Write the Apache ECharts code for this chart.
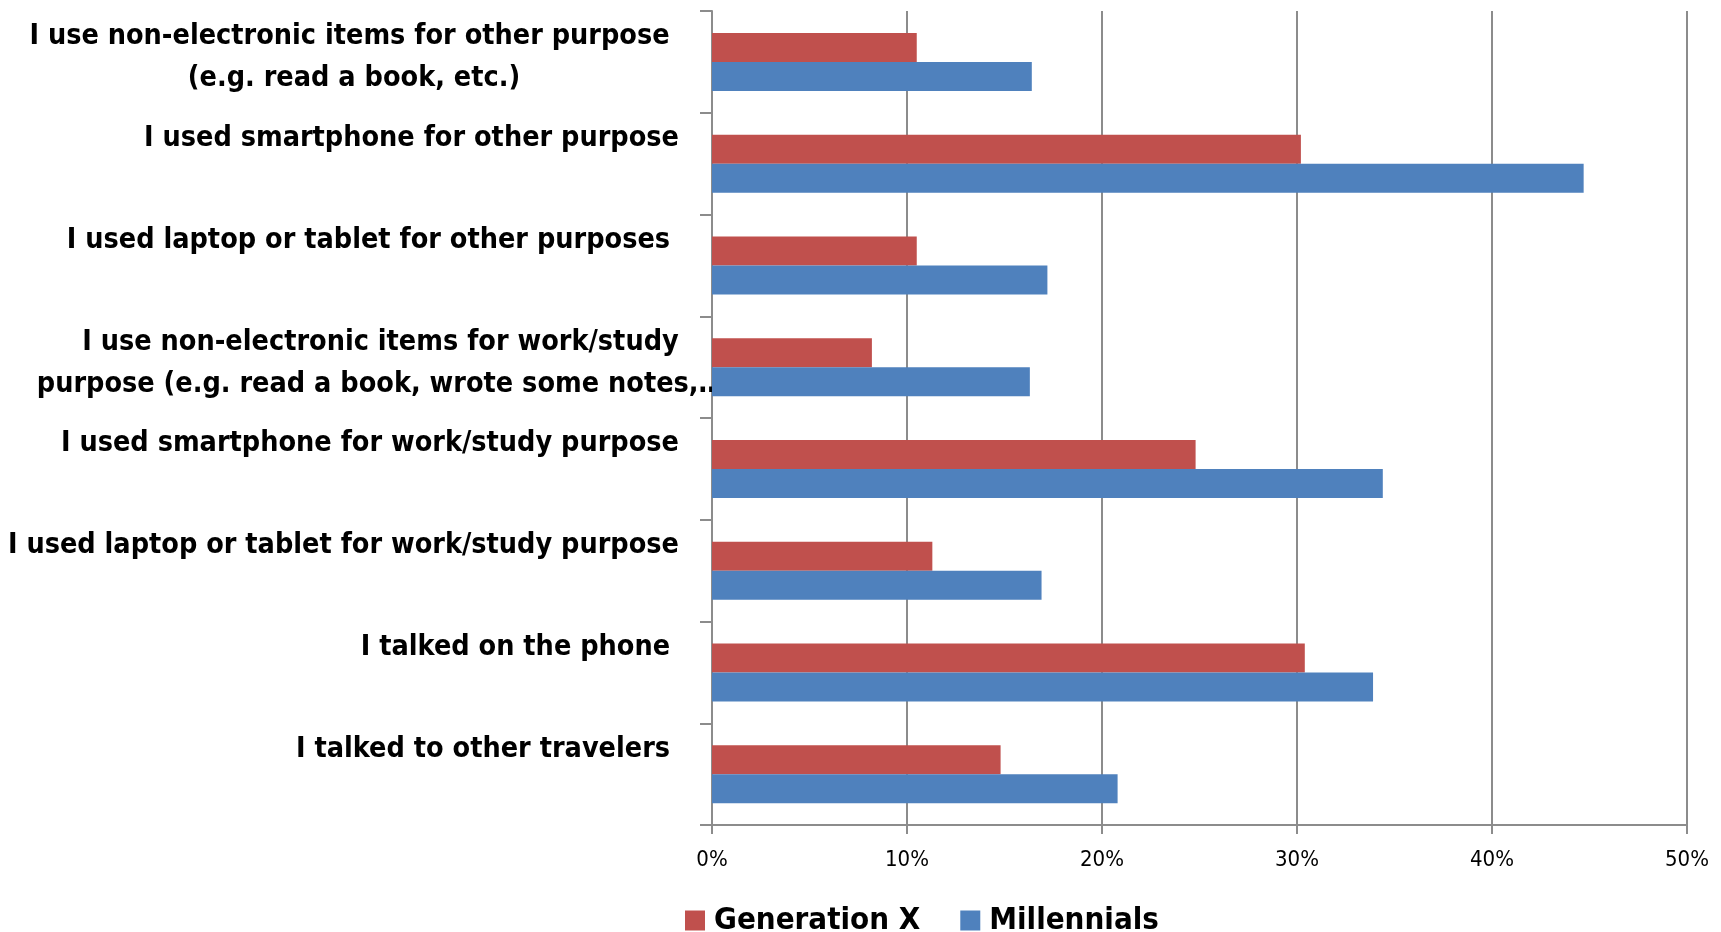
<!DOCTYPE html>
<html>
<head>
<meta charset="utf-8">
<script src="https://cdn.jsdelivr.net/npm/echarts@6/dist/echarts.min.js"></script>
<style>
  html, body { margin: 0; padding: 0; background: #ffffff; }
  #chart { width: 1721px; height: 932px; }
</style>
</head>
<body>
<div id="chart"></div>
<script>
// Activities, listed top to bottom
const categories = [
  'I use non-electronic items for other purpose \n(e.g. read a book, etc.)',
  'I used smartphone for other purpose',
  'I used laptop or tablet for other purposes ',
  'I use non-electronic items for work/study\npurpose (e.g. read a book, wrote some notes,…',
  'I used smartphone for work/study purpose',
  'I used laptop or tablet for work/study purpose',
  'I talked on the phone ',
  'I talked to other travelers '
];

// Share of respondents (%)
const generationX = [10.5, 30.2, 10.5, 8.2, 24.8, 11.3, 30.4, 14.8];
const millennials = [16.4, 44.7, 17.2, 16.3, 34.4, 16.9, 33.9, 20.8];

const seriesNames = ['Generation X', 'Millennials'];
const xTickValues = [0, 10, 20, 30, 40, 50];

const FONT = "'DejaVu Sans Condensed', 'DejaVu Sans', sans-serif";
const LABEL_SIZE = 28.5;
const LABEL_LINE = 42;
const AXIS_GREY = '#8c8c8c';

// Two-line labels: both lines centred on the width of the first line
const measureCtx = document.createElement('canvas').getContext('2d');
measureCtx.font = 'bold ' + LABEL_SIZE + 'px ' + FONT;
const baseLabel = {
  fontFamily: FONT, fontWeight: 'bold', fontSize: LABEL_SIZE,
  lineHeight: LABEL_LINE, color: '#000000'
};
const rich = { r: Object.assign({ align: 'right' }, baseLabel) };
categories.forEach(function (c, i) {
  const lines = c.split('\n');
  if (lines.length > 1) {
    rich['c' + i] = Object.assign({
      align: 'center',
      width: Math.ceil(measureCtx.measureText(lines[0]).width)
    }, baseLabel);
  }
});

const chart = echarts.init(document.getElementById('chart'), null, { renderer: 'canvas' });
chart.setOption({
  animation: false,
  backgroundColor: '#ffffff',
  grid: {
    left: 712, right: 34, top: 11, bottom: 107,
    containLabel: false, outerBoundsMode: 'none'
  },
  legend: {
    data: seriesNames,
    left: 680,
    top: 900,
    icon: 'rect',
    itemWidth: 20,
    itemHeight: 20,
    itemGap: 40,
    textStyle: { fontFamily: FONT, fontWeight: 'bold', fontSize: 31, color: '#000000', padding: [0, 0, 0, 4] }
  },
  xAxis: {
    type: 'value',
    min: xTickValues[0],
    max: xTickValues[xTickValues.length - 1],
    interval: xTickValues[1] - xTickValues[0],
    axisLine: { show: true, lineStyle: { color: AXIS_GREY, width: 2 } },
    axisTick: { show: true, length: 9, lineStyle: { color: AXIS_GREY, width: 2 } },
    splitLine: { show: true, lineStyle: { color: AXIS_GREY, width: 2 } },
    axisLabel: {
      margin: 24,
      fontFamily: FONT,
      fontSize: 22,
      color: '#000000',
      formatter: '{value}%'
    }
  },
  yAxis: {
    type: 'category',
    inverse: true,
    data: categories,
    axisLine: { show: true, lineStyle: { color: AXIS_GREY, width: 2 } },
    axisTick: { show: true, inside: false, length: 12, lineStyle: { color: AXIS_GREY, width: 2 } },
    splitLine: { show: false },
    axisLabel: {
      margin: 33,
      padding: [0, 0, 8, 0],
      interval: 0,
      formatter: function (value, index) {
        const lines = value.split('\n');
        if (lines.length === 1) return '{r|' + value + '}\n{r| }';
        return lines.map(function (l) { return '{c' + index + '|' + l + '}'; }).join('\n');
      },
      rich: rich
    }
  },
  series: [
    {
      name: seriesNames[0], type: 'bar', data: generationX,
      barWidth: 29, barGap: '0%',
      itemStyle: { color: '#C0504D' }
    },
    {
      name: seriesNames[1], type: 'bar', data: millennials,
      barWidth: 29, barGap: '0%',
      itemStyle: { color: '#4F81BD' }
    }
  ]
});
</script>
</body>
</html>
